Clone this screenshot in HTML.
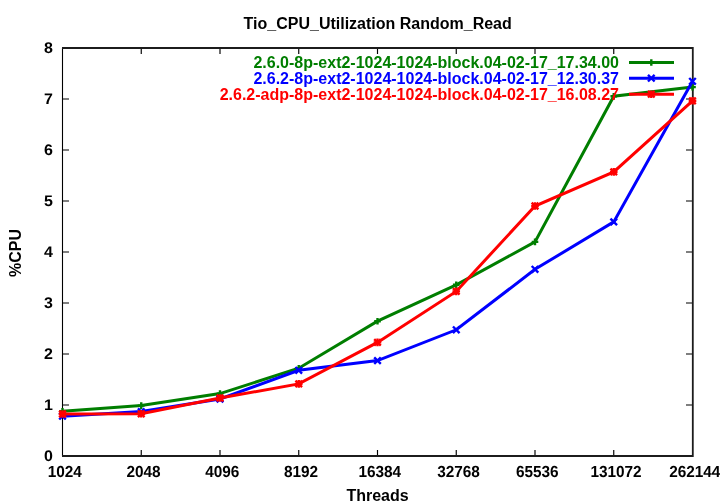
<!DOCTYPE html><html><head><meta charset="utf-8"><style>html,body{margin:0;padding:0;background:#fff;overflow:hidden}svg{display:block;will-change:transform;}text{font-family:"Liberation Sans",sans-serif;font-size:16px;}text.g{text-rendering:geometricPrecision;}</style></head><body>
<svg width="720" height="504" viewBox="0 0 720 504">
<rect width="720" height="504" fill="#fff"/>
<text x="377.7" y="29" text-anchor="middle" fill="#000" font-weight="bold" >Tio_CPU_Utilization Random_Read</text>
<path d="M63,456H69M692,456H686M63,405H69M692,405H686M63,354H69M692,354H686M63,303H69M692,303H686M63,252H69M692,252H686M63,201H69M692,201H686M63,150H69M692,150H686M63,99H69M692,99H686M63,48H69M692,48H686M141.25,455V450M141.25,49V54M220.0,455V450M220.0,49V54M298.75,455V450M298.75,49V54M377.5,455V450M377.5,49V54M456.25,455V450M456.25,49V54M535.0,455V450M535.0,49V54M613.75,455V450M613.75,49V54" stroke="#000" stroke-width="1.15" fill="none"/>
<path d="M62.5,48V456" stroke="#000" stroke-width="1.1" fill="none"/>
<path d="M62,48H693.7M62,456H693.7M692.8,47.1V456.9" stroke="#1c1c1c" stroke-width="1.8" fill="none"/>
<text x="53" y="461.2" text-anchor="end" fill="#000" font-weight="bold" class="g" transform="translate(0,461.2) scale(1,0.96) translate(0,-461.2)">0</text>
<text x="53" y="410.2" text-anchor="end" fill="#000" font-weight="bold" class="g" transform="translate(0,410.2) scale(1,0.96) translate(0,-410.2)">1</text>
<text x="53" y="359.2" text-anchor="end" fill="#000" font-weight="bold" class="g" transform="translate(0,359.2) scale(1,0.96) translate(0,-359.2)">2</text>
<text x="53" y="308.2" text-anchor="end" fill="#000" font-weight="bold" class="g" transform="translate(0,308.2) scale(1,0.96) translate(0,-308.2)">3</text>
<text x="53" y="257.2" text-anchor="end" fill="#000" font-weight="bold" class="g" transform="translate(0,257.2) scale(1,0.96) translate(0,-257.2)">4</text>
<text x="53" y="206.2" text-anchor="end" fill="#000" font-weight="bold" class="g" transform="translate(0,206.2) scale(1,0.96) translate(0,-206.2)">5</text>
<text x="53" y="155.2" text-anchor="end" fill="#000" font-weight="bold" class="g" transform="translate(0,155.2) scale(1,0.96) translate(0,-155.2)">6</text>
<text x="53" y="104.2" text-anchor="end" fill="#000" font-weight="bold" class="g" transform="translate(0,104.2) scale(1,0.96) translate(0,-104.2)">7</text>
<text x="53" y="53.2" text-anchor="end" fill="#000" font-weight="bold" class="g" transform="translate(0,53.2) scale(1,0.96) translate(0,-53.2)">8</text>
<text x="64.8" y="477" text-anchor="middle" fill="#000" font-weight="bold" class="g" transform="translate(64.8,477) scale(0.96,1) translate(-64.8,-477)">1024</text>
<text x="143.55" y="477" text-anchor="middle" fill="#000" font-weight="bold" class="g" transform="translate(143.55,477) scale(0.96,1) translate(-143.55,-477)">2048</text>
<text x="222.3" y="477" text-anchor="middle" fill="#000" font-weight="bold" class="g" transform="translate(222.3,477) scale(0.96,1) translate(-222.3,-477)">4096</text>
<text x="301.05" y="477" text-anchor="middle" fill="#000" font-weight="bold" class="g" transform="translate(301.05,477) scale(0.96,1) translate(-301.05,-477)">8192</text>
<text x="379.8" y="477" text-anchor="middle" fill="#000" font-weight="bold" class="g" transform="translate(379.8,477) scale(0.96,1) translate(-379.8,-477)">16384</text>
<text x="458.55" y="477" text-anchor="middle" fill="#000" font-weight="bold" class="g" transform="translate(458.55,477) scale(0.96,1) translate(-458.55,-477)">32768</text>
<text x="537.3" y="477" text-anchor="middle" fill="#000" font-weight="bold" class="g" transform="translate(537.3,477) scale(0.96,1) translate(-537.3,-477)">65536</text>
<text x="616.05" y="477" text-anchor="middle" fill="#000" font-weight="bold" class="g" transform="translate(616.05,477) scale(0.96,1) translate(-616.05,-477)">131072</text>
<text x="694.8" y="477" text-anchor="middle" fill="#000" font-weight="bold" class="g" transform="translate(694.8,477) scale(0.96,1) translate(-694.8,-477)">262144</text>
<text x="377.5" y="500.5" text-anchor="middle" fill="#000" font-weight="bold" >Threads</text>
<text x="0" y="0" text-anchor="middle" fill="#000" font-weight="bold" transform="translate(21,253) rotate(-90)">%CPU</text>
<text x="619" y="68" text-anchor="end" fill="#007e00" font-weight="bold" >2.6.0-8p-ext2-1024-1024-block.04-02-17_17.34.00</text>
<polyline points="62.50,411.20 141.25,405.60 220.00,393.60 298.75,368.20 377.50,321.20 456.25,284.80 535.00,241.90 613.75,96.20 692.50,87.10" stroke="#007e00" stroke-width="3" fill="none" stroke-linejoin="miter"/>
<path d="M59.2,411.2H65.8M62.5,407.9V414.5" stroke="#007e00" stroke-width="2.4" fill="none"/>
<path d="M137.95,405.6H144.55M141.25,402.3V408.90000000000003" stroke="#007e00" stroke-width="2.4" fill="none"/>
<path d="M216.7,393.6H223.3M220.0,390.3V396.90000000000003" stroke="#007e00" stroke-width="2.4" fill="none"/>
<path d="M295.45,368.2H302.05M298.75,364.9V371.5" stroke="#007e00" stroke-width="2.4" fill="none"/>
<path d="M374.2,321.2H380.8M377.5,317.9V324.5" stroke="#007e00" stroke-width="2.4" fill="none"/>
<path d="M452.95,284.8H459.55M456.25,281.5V288.1" stroke="#007e00" stroke-width="2.4" fill="none"/>
<path d="M531.7,241.9H538.3M535.0,238.6V245.20000000000002" stroke="#007e00" stroke-width="2.4" fill="none"/>
<path d="M610.45,96.2H617.05M613.75,92.9V99.5" stroke="#007e00" stroke-width="2.4" fill="none"/>
<path d="M689.2,87.1H695.8M692.5,83.8V90.39999999999999" stroke="#007e00" stroke-width="2.4" fill="none"/>
<path d="M629,62.5H674" stroke="#007e00" stroke-width="3"/>
<path d="M648.0,62.5H654.5999999999999M651.3,59.2V65.8" stroke="#007e00" stroke-width="2.4" fill="none"/>
<text x="619" y="84" text-anchor="end" fill="#0000ff" font-weight="bold" >2.6.2-8p-ext2-1024-1024-block.04-02-17_12.30.37</text>
<polyline points="62.50,416.20 141.25,411.60 220.00,399.00 298.75,370.30 377.50,360.60 456.25,329.80 535.00,269.30 613.75,221.90 692.50,81.30" stroke="#0000ff" stroke-width="3" fill="none" stroke-linejoin="miter"/>
<path d="M59.2,412.9L65.8,419.5M59.2,419.5L65.8,412.9" stroke="#0000ff" stroke-width="2.4" fill="none"/>
<path d="M137.95,408.3L144.55,414.90000000000003M137.95,414.90000000000003L144.55,408.3" stroke="#0000ff" stroke-width="2.4" fill="none"/>
<path d="M216.7,395.7L223.3,402.3M216.7,402.3L223.3,395.7" stroke="#0000ff" stroke-width="2.4" fill="none"/>
<path d="M295.45,367.0L302.05,373.6M295.45,373.6L302.05,367.0" stroke="#0000ff" stroke-width="2.4" fill="none"/>
<path d="M374.2,357.3L380.8,363.90000000000003M374.2,363.90000000000003L380.8,357.3" stroke="#0000ff" stroke-width="2.4" fill="none"/>
<path d="M452.95,326.5L459.55,333.1M452.95,333.1L459.55,326.5" stroke="#0000ff" stroke-width="2.4" fill="none"/>
<path d="M531.7,266.0L538.3,272.6M531.7,272.6L538.3,266.0" stroke="#0000ff" stroke-width="2.4" fill="none"/>
<path d="M610.45,218.6L617.05,225.20000000000002M610.45,225.20000000000002L617.05,218.6" stroke="#0000ff" stroke-width="2.4" fill="none"/>
<path d="M689.2,78.0L695.8,84.6M689.2,84.6L695.8,78.0" stroke="#0000ff" stroke-width="2.4" fill="none"/>
<path d="M629,78.2H674" stroke="#0000ff" stroke-width="3"/>
<path d="M648.0,74.9L654.5999999999999,81.5M648.0,81.5L654.5999999999999,74.9" stroke="#0000ff" stroke-width="2.4" fill="none"/>
<text x="619" y="100" text-anchor="end" fill="#ff0000" font-weight="bold" >2.6.2-adp-8p-ext2-1024-1024-block.04-02-17_16.08.27</text>
<polyline points="62.50,414.00 141.25,413.80 220.00,398.00 298.75,383.90 377.50,342.40 456.25,291.40 535.00,206.00 613.75,171.90 692.50,100.80" stroke="#ff0000" stroke-width="3" fill="none" stroke-linejoin="miter"/>
<path d="M58.7,414.0H66.3M62.5,410.2V417.8" stroke="#ff0000" stroke-width="2.4" fill="none"/><path d="M59.2,410.7L65.8,417.3M59.2,417.3L65.8,410.7" stroke="#ff0000" stroke-width="2.4" fill="none"/>
<path d="M137.45,413.8H145.05M141.25,410.0V417.6" stroke="#ff0000" stroke-width="2.4" fill="none"/><path d="M137.95,410.5L144.55,417.1M137.95,417.1L144.55,410.5" stroke="#ff0000" stroke-width="2.4" fill="none"/>
<path d="M216.2,398.0H223.8M220.0,394.2V401.8" stroke="#ff0000" stroke-width="2.4" fill="none"/><path d="M216.7,394.7L223.3,401.3M216.7,401.3L223.3,394.7" stroke="#ff0000" stroke-width="2.4" fill="none"/>
<path d="M294.95,383.9H302.55M298.75,380.09999999999997V387.7" stroke="#ff0000" stroke-width="2.4" fill="none"/><path d="M295.45,380.59999999999997L302.05,387.2M295.45,387.2L302.05,380.59999999999997" stroke="#ff0000" stroke-width="2.4" fill="none"/>
<path d="M373.7,342.4H381.3M377.5,338.59999999999997V346.2" stroke="#ff0000" stroke-width="2.4" fill="none"/><path d="M374.2,339.09999999999997L380.8,345.7M374.2,345.7L380.8,339.09999999999997" stroke="#ff0000" stroke-width="2.4" fill="none"/>
<path d="M452.45,291.4H460.05M456.25,287.59999999999997V295.2" stroke="#ff0000" stroke-width="2.4" fill="none"/><path d="M452.95,288.09999999999997L459.55,294.7M452.95,294.7L459.55,288.09999999999997" stroke="#ff0000" stroke-width="2.4" fill="none"/>
<path d="M531.2,206.0H538.8M535.0,202.2V209.8" stroke="#ff0000" stroke-width="2.4" fill="none"/><path d="M531.7,202.7L538.3,209.3M531.7,209.3L538.3,202.7" stroke="#ff0000" stroke-width="2.4" fill="none"/>
<path d="M609.95,171.9H617.55M613.75,168.1V175.70000000000002" stroke="#ff0000" stroke-width="2.4" fill="none"/><path d="M610.45,168.6L617.05,175.20000000000002M610.45,175.20000000000002L617.05,168.6" stroke="#ff0000" stroke-width="2.4" fill="none"/>
<path d="M688.7,100.8H696.3M692.5,97.0V104.6" stroke="#ff0000" stroke-width="2.4" fill="none"/><path d="M689.2,97.5L695.8,104.1M689.2,104.1L695.8,97.5" stroke="#ff0000" stroke-width="2.4" fill="none"/>
<path d="M629,94.2H674" stroke="#ff0000" stroke-width="3"/>
<path d="M647.5,94.2H655.0999999999999M651.3,90.4V98.0" stroke="#ff0000" stroke-width="2.4" fill="none"/><path d="M648.0,90.9L654.5999999999999,97.5M648.0,97.5L654.5999999999999,90.9" stroke="#ff0000" stroke-width="2.4" fill="none"/>
</svg></body></html>
